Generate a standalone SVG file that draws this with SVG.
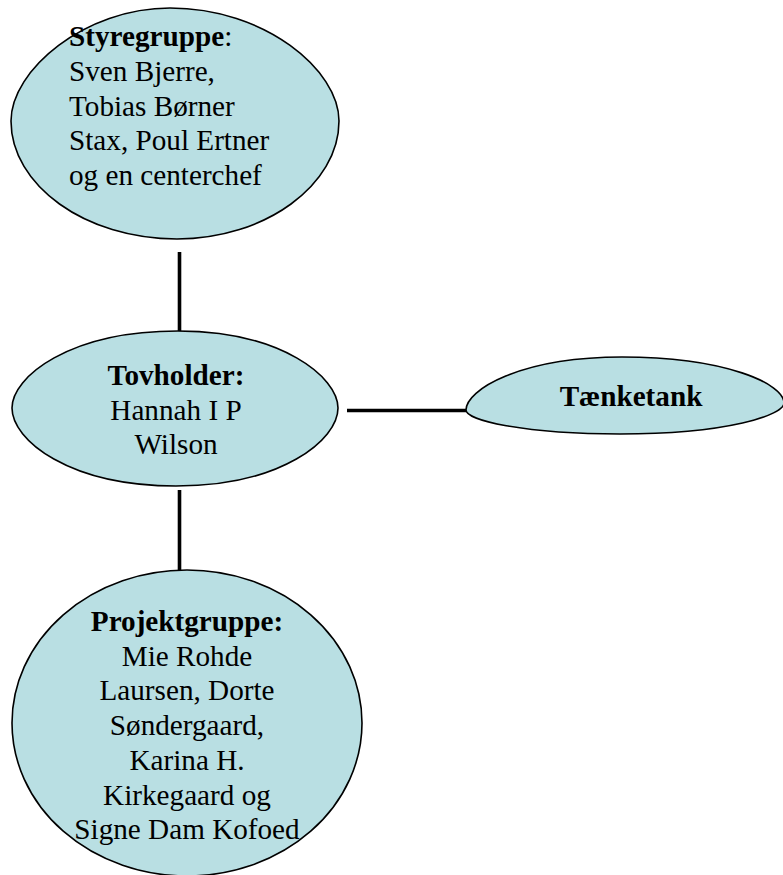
<svg xmlns="http://www.w3.org/2000/svg" width="783" height="875" viewBox="0 0 783 875">
<style>
.node{fill:#b9dfe3;stroke:#000;stroke-width:1.6}
.t{font-family:"Liberation Serif","Times New Roman",serif;font-size:29.2px;fill:#000}
.b{font-weight:bold}
.c{text-anchor:middle}
.conn{stroke:#000;stroke-width:3.6;fill:none}
</style>
<rect width="783" height="875" fill="#fff"/>
<g id="connectors">
<line class="conn" x1="179.5" y1="252" x2="179.5" y2="331"/>
<line class="conn" x1="179.5" y1="490" x2="179.5" y2="570"/>
<line class="conn" x1="347" y1="410.5" x2="466" y2="410.5"/>
</g>
<g id="styregruppe">
<path class="node" d="M11,121 C11,70 85,8 170,8 C265,8 339,70 339,121 C339,185 265,239 177,239 C85,239 11,185 11,121 Z"/>
<text class="t" x="69" y="46.2"><tspan class="b">Styregruppe</tspan>:</text>
<text class="t" x="69" y="80.9">Sven Bjerre,</text>
<text class="t" x="69" y="115.6">Tobias Børner</text>
<text class="t" x="69" y="150.3">Stax, Poul Ertner</text>
<text class="t" x="69" y="185">og en centerchef</text>
</g>
<g id="tovholder">
<path class="node" d="M12,408 C12,377 69,331 178,331 C281,331 338,377 338,408 C338,440 281,486 176,486 C69,486 12,440 12,408 Z"/>
<text class="t b c" x="176" y="385">Tovholder:</text>
<text class="t c" x="176" y="419.5">Hannah I P</text>
<text class="t c" x="176" y="454">Wilson</text>
</g>
<g id="taenketank">
<path class="node" d="M466,410 C466,390 520,357 622,357 C726,357 784,384 784,403 C784,415 728,434 620,434 C522,434 466,420 466,410 Z"/>
<text class="t b c" x="631" y="406">Tænketank</text>
</g>
<g id="projektgruppe">
<ellipse class="node" cx="187" cy="723" rx="175" ry="153"/>
<text class="t b c" x="187" y="631">Projektgruppe:</text>
<text class="t c" x="187" y="665.7">Mie Rohde</text>
<text class="t c" x="187" y="700.4">Laursen, Dorte</text>
<text class="t c" x="187" y="735.1">Søndergaard,</text>
<text class="t c" x="187" y="769.8">Karina H.</text>
<text class="t c" x="187" y="804.5">Kirkegaard og</text>
<text class="t c" x="187" y="839.2">Signe Dam Kofoed</text>
</g>
</svg>
